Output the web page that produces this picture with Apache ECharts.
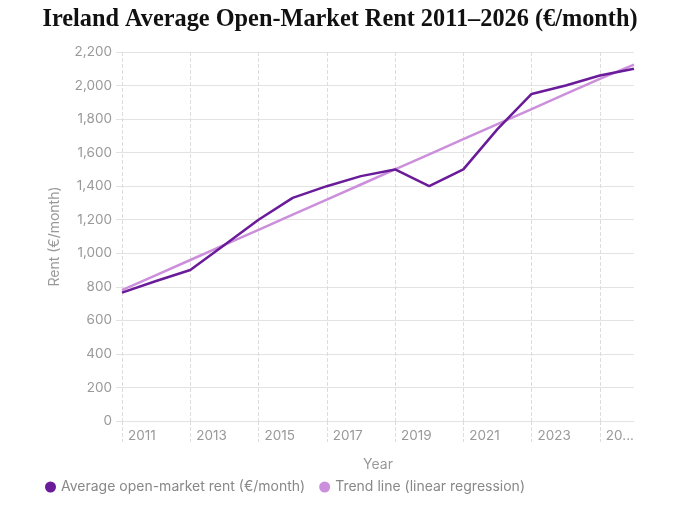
<!DOCTYPE html>
<html>
<head>
<meta charset="utf-8">
<script src="https://cdn.jsdelivr.net/npm/echarts@6/dist/echarts.min.js"></script>
<style>
  html, body { margin: 0; padding: 0; background: #fff; }
  #chart { width: 680px; height: 510px; }
</style>
</head>
<body>
<div id="chart"></div>
<script>
let rent_chart = echarts.init(document.getElementById('chart'));

// 年份
let years = ['2011', '2012', '2013', '2014', '2015', '2016', '2017', '2018',
    '2019', '2020', '2021', '2022', '2023', '2024', '2025', '2026'];
// 平均租金
let rent_values = [765, 835, 900, 1050, 1200, 1330, 1400, 1460,
    1500, 1400, 1500, 1740, 1950, 2000, 2060, 2100];
// 趋势线
let trend_values = [780, 870, 960, 1050, 1140, 1230, 1320, 1410,
    1500, 1590, 1680, 1770, 1860, 1950, 2040, 2125];

let grid_color = '#e3e3e3';
let label_color = '#999';

let option = {
    title: {
        text: 'Ireland Average Open-Market Rent 2011–2026 (€/month)',
        left: 'center',
        top: 3,
        textStyle: {
            fontFamily: 'Liberation Serif',
            fontWeight: 'bold',
            fontSize: 24.3,
            color: '#111'
        }
    },
    grid: {
        left: 122,
        right: 46,
        top: 52,
        bottom: 89
    },
    xAxis: {
        type: 'category',
        data: years,
        boundaryGap: false,
        name: 'Year',
        nameLocation: 'middle',
        nameGap: 37,
        nameTextStyle: {color: label_color, fontSize: 14, fontFamily: 'Inter'},
        axisLine: {lineStyle: {color: grid_color}},
        axisTick: {
            show: true,
            interval: 1,
            length: 21,
            lineStyle: {color: '#dddddd', type: 'dashed'}
        },
        axisLabel: {
            interval: 1,
            align: 'left',
            margin: 8,
            padding: [0, 0, 0, 6],
            color: label_color,
            fontSize: 13.5,
            fontFamily: 'Inter',
            formatter: function (v, i) {
                return i === 14 ? v.slice(0, 2) + '...' : v;
            }
        },
        splitLine: {
            show: true,
            interval: 1,
            lineStyle: {color: '#dddddd', type: 'dashed'}
        }
    },
    yAxis: {
        type: 'value',
        min: 0,
        max: 2200,
        interval: 200,
        name: 'Rent (€/month)',
        nameLocation: 'middle',
        nameGap: 60,
        nameTextStyle: {color: label_color, fontSize: 14, fontFamily: 'Inter'},
        axisLine: {show: false},
        axisTick: {show: true, length: 6, lineStyle: {color: grid_color}},
        axisLabel: {
            color: label_color,
            fontSize: 13.5,
            fontFamily: 'Inter',
            margin: 10,
            formatter: function (v) {
                return v.toLocaleString('en-US');
            }
        },
        splitLine: {lineStyle: {color: grid_color}}
    },
    legend: {
        left: 40,
        bottom: 11,
        icon: 'circle',
        itemWidth: 11,
        itemHeight: 11,
        itemGap: 14,
        textStyle: {color: '#888', fontSize: 14, fontFamily: 'Inter'},
        data: ['Average open-market rent (€/month)', 'Trend line (linear regression)']
    },
    series: [
        {
            name: 'Trend line (linear regression)',
            type: 'line',
            data: trend_values,
            symbol: 'none',
            z: 2,
            itemStyle: {color: '#cc8fdb'},
            lineStyle: {color: '#cc8fdb', width: 2.5}
        },
        {
            name: 'Average open-market rent (€/month)',
            type: 'line',
            data: rent_values,
            symbol: 'none',
            z: 3,
            itemStyle: {color: '#6a1b9a'},
            lineStyle: {color: '#6a1b9a', width: 2.5}
        }
    ]
};

rent_chart.setOption(option);
</script>
</body>
</html>
